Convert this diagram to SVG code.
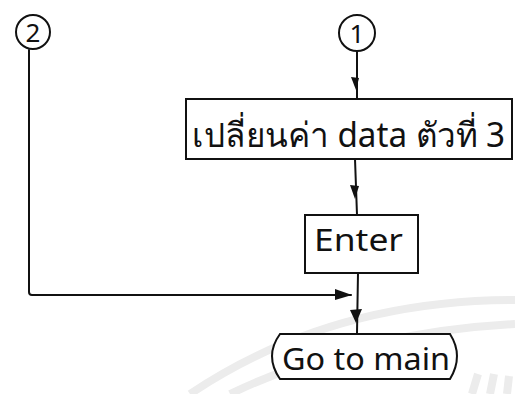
<svg xmlns="http://www.w3.org/2000/svg" width="515" height="394" viewBox="0 0 515 394">
  <style>
    .ln { fill: none; stroke: #111; stroke-width: 2; stroke-linecap: round; stroke-linejoin: round; }
    .bx { fill: #fff; stroke: #111; stroke-width: 2; }
    .tx { font-family: "Noto Sans", "DejaVu Sans", sans-serif; fill: #111; }
    .wm { fill: none; stroke: #ececec; stroke-width: 8; }
  </style>

  <!-- faint background arcs -->
  <g id="backdrop">
    <path class="wm" d="M190,394 Q330,300 515,300"/>
    <path class="wm" d="M230,394 Q360,332 515,324"/>
    <path class="wm" d="M472,394 L478,374 M490,394 L494,374 M507,394 L509,376"/>
  </g>

  <g id="connectors">
    <path class="ln" d="M357,52 L357,99"/>
    <path d="M351,77 L359,78 L356,90 Z" fill="#111"/>
    <path class="ln" d="M355,159 L357,215"/>
    <path d="M350,185 L359,186 L355,199 Z" fill="#111"/>
    <path class="ln" d="M358,273 L357,333"/>
    <path d="M350,310 L362,309 L356,323 Z" fill="#111"/>
    <path class="ln" d="M29,50 L29,292 Q29,295 32,295 L351,295"/>
    <path d="M335,289 L352,295 L335,300 Z" fill="#111"/>
  </g>

  <g id="start2">
    <circle class="ln" cx="33" cy="32" r="17"/>
    <text class="tx" x="33" y="42" font-size="26" text-anchor="middle">2</text>
  </g>

  <g id="start1">
    <circle class="ln" cx="357" cy="33" r="18"/>
    <text class="tx" x="357" y="43" font-size="26" text-anchor="middle">1</text>
  </g>

  <g id="change-data">
    <rect class="bx" x="186" y="99" width="326" height="60"/>
    <text class="tx" x="192" y="147" font-size="34" textLength="313" lengthAdjust="spacingAndGlyphs">เปลี่ยนค่า data ตัวที่ 3</text>
  </g>

  <g id="enter">
    <rect class="bx" x="305" y="215" width="113" height="58"/>
    <text class="tx" x="314" y="251" font-size="31" textLength="89" lengthAdjust="spacingAndGlyphs">Enter</text>
  </g>

  <g id="goto-main">
    <path class="bx" d="M280,334 L450,334 Q464,356 450,379 L280,379 Q264,356 280,334 Z"/>
    <text class="tx" x="282" y="370" font-size="30" textLength="168" lengthAdjust="spacingAndGlyphs">Go to main</text>
  </g>
</svg>
